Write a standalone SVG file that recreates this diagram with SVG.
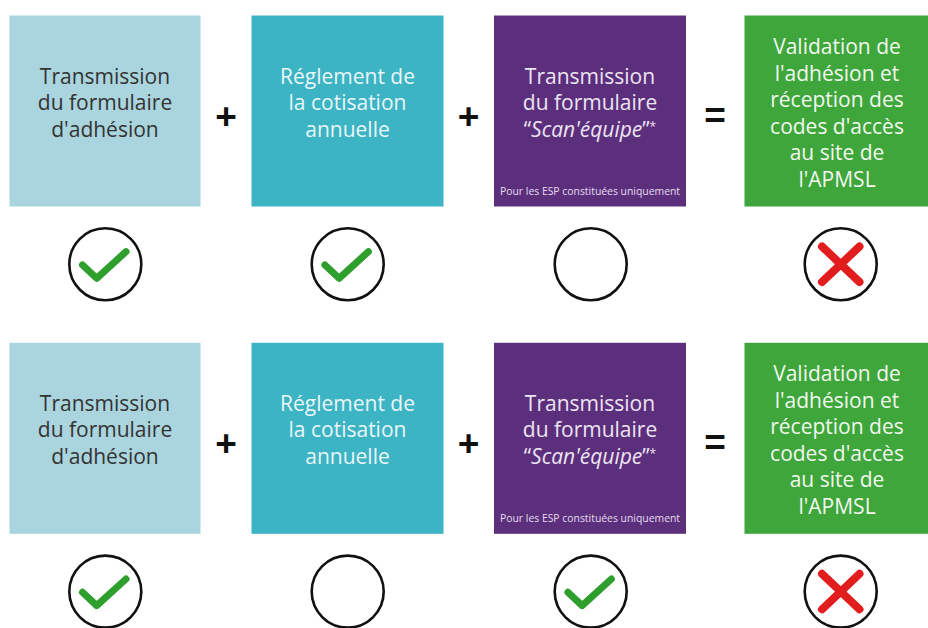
<svg xmlns="http://www.w3.org/2000/svg" width="928" height="628" viewBox="0 0 928 628">
<style>
.t{font-family:"Open Sans","Liberation Sans",sans-serif;font-size:21px;text-anchor:middle}
.dk{fill:#333333}
.lt{fill:#eaf6f8}
.pu{fill:#ece4f1}
.gr{fill:#f1f8ef}
.sm{font-family:"Open Sans","Liberation Sans",sans-serif;font-size:10.4px;text-anchor:middle;fill:#e6dcec}
.op{font-family:"Liberation Sans",Arial,sans-serif;font-weight:bold;font-size:37px;text-anchor:middle;fill:#111111}
.ring{fill:#ffffff;stroke:#111111;stroke-width:2.6}
.chk{fill:none;stroke:#2e9e2c;stroke-width:7;stroke-linecap:round;stroke-linejoin:round}
.crs{fill:none;stroke:#e21d1d;stroke-width:8;stroke-linecap:round}
</style>
<rect width="928" height="628" fill="#ffffff"/>

<g id="row1">
  <g id="r1-form">
    <rect x="9.5" y="15.5" width="191" height="191" fill="#aad5de"/>
    <text class="t dk" x="105" y="83.5">Transmission</text>
    <text class="t dk" x="105" y="110">du formulaire</text>
    <text class="t dk" x="105" y="136.5">d'adhésion</text>
  </g>
  <g id="r1-cotisation">
    <rect x="251.5" y="15.5" width="192" height="191" fill="#3cb4c4"/>
    <text class="t lt" x="347.5" y="83.5">Réglement de</text>
    <text class="t lt" x="347.5" y="110">la cotisation</text>
    <text class="t lt" x="347.5" y="136.5">annuelle</text>
  </g>
  <g id="r1-scan">
    <rect x="494" y="15.5" width="192" height="191" fill="#5c2f7d"/>
    <text class="t pu" x="590" y="83.5">Transmission</text>
    <text class="t pu" x="590" y="110">du formulaire</text>
    <text class="t pu" x="590" y="136.5">“<tspan font-style="italic">Scan'équipe</tspan>”<tspan font-size="12" dy="-6">*</tspan></text>
    <text class="sm" x="590" y="195">Pour les ESP constituées uniquement</text>
  </g>
  <g id="r1-validation">
    <rect x="744.5" y="15.5" width="183.5" height="191" fill="#3ea63a"/>
    <text class="t gr" x="837" y="54">Validation de</text>
    <text class="t gr" x="837" y="80.5">l'adhésion et</text>
    <text class="t gr" x="837" y="107">réception des</text>
    <text class="t gr" x="837" y="133.5">codes d'accès</text>
    <text class="t gr" x="837" y="160">au site de</text>
    <text class="t gr" x="837" y="186.5">l'APMSL</text>
  </g>
  <text class="op" x="226" y="128.5">+</text>
  <text class="op" x="468.5" y="128.5">+</text>
  <text class="op" x="715" y="127.5">=</text>
  <g id="r1-s1"><circle class="ring" cx="105.3" cy="264.3" r="36"/><path class="chk" d="M82.5 265 L96.7 278.3 L126 251.7"/></g>
  <g id="r1-s2"><circle class="ring" cx="347.7" cy="264.3" r="36"/><path class="chk" d="M324.9 265 L339.1 278.3 L368.4 251.7"/></g>
  <g id="r1-s3"><circle class="ring" cx="590.7" cy="264.3" r="36"/></g>
  <g id="r1-s4"><circle class="ring" cx="840.7" cy="264.3" r="36"/><path class="crs" d="M822 246.5 L859.5 282 M859.5 246.5 L822 282"/></g>
</g>

<g id="row2" transform="translate(0,327.3)">
  <g id="r2-form">
    <rect x="9.5" y="15.5" width="191" height="191" fill="#aad5de"/>
    <text class="t dk" x="105" y="83.5">Transmission</text>
    <text class="t dk" x="105" y="110">du formulaire</text>
    <text class="t dk" x="105" y="136.5">d'adhésion</text>
  </g>
  <g id="r2-cotisation">
    <rect x="251.5" y="15.5" width="192" height="191" fill="#3cb4c4"/>
    <text class="t lt" x="347.5" y="83.5">Réglement de</text>
    <text class="t lt" x="347.5" y="110">la cotisation</text>
    <text class="t lt" x="347.5" y="136.5">annuelle</text>
  </g>
  <g id="r2-scan">
    <rect x="494" y="15.5" width="192" height="191" fill="#5c2f7d"/>
    <text class="t pu" x="590" y="83.5">Transmission</text>
    <text class="t pu" x="590" y="110">du formulaire</text>
    <text class="t pu" x="590" y="136.5">“<tspan font-style="italic">Scan'équipe</tspan>”<tspan font-size="12" dy="-6">*</tspan></text>
    <text class="sm" x="590" y="195">Pour les ESP constituées uniquement</text>
  </g>
  <g id="r2-validation">
    <rect x="744.5" y="15.5" width="183.5" height="191" fill="#3ea63a"/>
    <text class="t gr" x="837" y="54">Validation de</text>
    <text class="t gr" x="837" y="80.5">l'adhésion et</text>
    <text class="t gr" x="837" y="107">réception des</text>
    <text class="t gr" x="837" y="133.5">codes d'accès</text>
    <text class="t gr" x="837" y="160">au site de</text>
    <text class="t gr" x="837" y="186.5">l'APMSL</text>
  </g>
  <text class="op" x="226" y="128.5">+</text>
  <text class="op" x="468.5" y="128.5">+</text>
  <text class="op" x="715" y="127.5">=</text>
  <g id="r2-s1"><circle class="ring" cx="105.3" cy="264.3" r="36"/><path class="chk" d="M82.5 265 L96.7 278.3 L126 251.7"/></g>
  <g id="r2-s2"><circle class="ring" cx="347.7" cy="264.3" r="36"/></g>
  <g id="r2-s3"><circle class="ring" cx="590.7" cy="264.3" r="36"/><path class="chk" d="M567.9 265 L582.1 278.3 L611.4 251.7"/></g>
  <g id="r2-s4"><circle class="ring" cx="840.7" cy="264.3" r="36"/><path class="crs" d="M822 246.5 L859.5 282 M859.5 246.5 L822 282"/></g>
</g>
</svg>
